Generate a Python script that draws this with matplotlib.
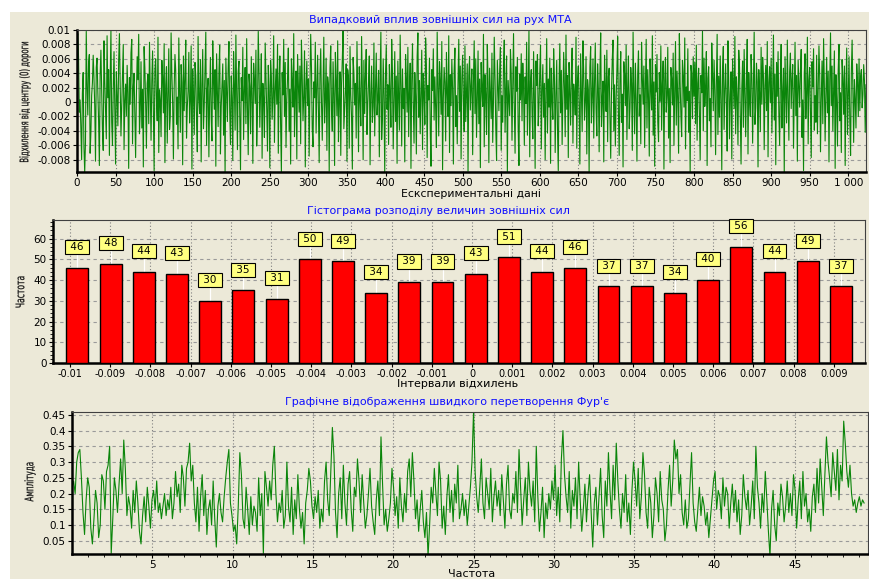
import numpy as np
import matplotlib
matplotlib.use("Agg")
import matplotlib.pyplot as plt
from matplotlib.patches import Rectangle, PathPatch
from matplotlib.textpath import TextPath
from matplotlib.font_manager import FontProperties
from matplotlib.transforms import Affine2D

# --- дані ---
# відхилення від центру дороги, одиниці 1e-4
deviation_e4 = [
    88, 95, 62, -14, 3, -35, -80, 12, 41, -62, -97, -55, 98, 22, -18, 54, 66, -71, -43, 9, 27, 65, 33, -6, -82, 48, 61, 14, -25, -88, 37, 72,
    16, -40, -67, 85, 28, -9, -51, 92, 6, 45, -74, 30, 99, -28, -60, 19, 70, -13, -86, 42, 8, -33, 57, 95, 24, -47, -5, 36, 80, -66, 2, 25,
    -19, 51, 13, -92, 34, -3, 68, 87, -58, 21, 40, -22, -77, 9, 63, 31, 94, -44, -11, 56, -36, 18, -90, 77, 47, -1, -64, 26, 39, -30, 83, 12,
    -53, 29, 71, -8, -95, 44, 60, 5, -26, 90, -70, 17, 3, -48, 58, 35, -15, 81, -84, 23, 49, -57, 11, 74, -38, -20, 96, 38, -2, -79, 20, 66,
    43, -31, 7, -65, 89, 14, -42, 52, 27, -87, 64, -12, 32, 86, -50, -7, 15, 69, -29, 1, 78, -93, 46, 10, -45, 55, 37, -23, -69, 91, 4, -16,
    59, -83, 24, 73, -37, -4, 50, 97, -60, 18, 33, -76, 8, 62, -21, -54, 85, 28, -10, 45, -89, 67, 13, -34, 40, 79, -72, -6, 22, 53, -46, 30,
    -99, 61, 19, -27, 47, 84, -13, -59, 36, 6, -81, 70, 25, -39, 93, 11, -66, 42, 57, -18, -94, 34, 2, 76, -52, 16, 48, -30, 88, -8, -73, 39,
    21, -44, 63, 9, -85, 54, 31, -2, 72, -61, -17, 98, 44, -35, 12, 67, -78, 26, 5, -49, 82, 38, -11, -68, 51, 20, -91, 58, 35, -24, 7, 92,
    -56, 15, 46, -3, 80, -71, 27, 64, -32, -97, 41, 10, 87, -20, 55, -63, 3, 34, 75, -41, 18, -86, 60, 29, -7, 95, -48, 13, 43, -79, 66, 24,
    -14, 50, -58, 86, 37, -26, 8, 71, -90, 22, 57, -5, 32, -75, 17, 94, 48, -36, -62, 28, 6, 83, -43, 19, 65, -15, -84, 39, 74, -1, -53, 14,
    90, -29, 4, 61, -67, 35, 23, -96, 47, 78, -12, -40, 56, 11, -88, 69, 30, -19, 85, -55, 1, 42, -74, 25, 59, 99, -37, -9, 16, 53, -82, 45,
    33, -64, 77, 10, -22, -93, 62, 40, -4, 26, -50, 84, 15, -69, 49, 3, -33, 91, 21, -80, 58, -16, 37, 73, -45, -2, 28, 64, -87, 12, 50, -28,
    -6, 82, -47, 18, 68, -18, 5, 44, -76, 31, 97, -52, -24, 60, 9, -98, 39, 79, -10, 24, -59, 52, 14, -35, 87, 43, -65, 2, 70, -27, 36, -85,
    57, 7, -39, 93, 25, -61, 46, -9, 19, -83, 66, 34, -14, 76, -48, 13, 54, -92, 29, 81, -3, -57, 41, 8, -72, 63, 96, -21, 30, -44, 17, 72,
    -66, 40, 11, -31, 89, 52, -77, 23, 3, 61, -38, -89, 45, 16, 74, -25, 35, -8, -63, 97, 20, -47, 56, 31, -17, 84, -94, 6, 48, 27, -54, 69,
    12, -20, 92, -70, 38, -5, 59, 18, -86, 44, 75, -34, 9, -58, 26, 87, -13, 50, -79, 33, 65, 2, -41, 78, -27, 14, 53, -96, 37, 63, -11, 22,
    46, -73, 28, 85, -16, 60, -49, 4, 71, -30, 32, -91, 55, 19, -6, 94, -62, 38, 10, -45, 80, 27, -84, 47, 13, -23, 68, -56, 1, 90, 34, -37,
    -81, 58, 22, -12, 43, 76, -67, 9, -28, 51, 86, -42, 17, 64, -97, 30, 7, -19, 73, 40, -53, 24, 95, -8, -71, 49, 15, 62, -35, -88, 39, 3,
    67, -26, 54, 20, -60, 35, -2, 83, -46, 12, 99, -76, 29, 45, -14, -51, 70, 8, -92, 57, 23, 66, -33, -4, 41, 79, -65, 18, 52, -21, 26, -80,
    14, 88, -43, 32, -7, 61, -85, 47, 3, -24, 74, 36, -70, 11, 58, -38, -95, 28, 81, -15, 44, -59, 6, 69, 21, -48, 93, -10, 37, -77, 55, 16,
    -32, 42, 75, -57, 25, 9, -18, 90, -64, 33, 50, -3, -86, 67, 14, -41, 85, 39, -25, 2, 63, -72, 31, 17, -99, 48, 77, -29, 8, 60, -50, 27,
    82, -9, -47, 53, 18, -69, 40, 96, -34, 5, 29, -83, 65, 22, -13, 72, -55, 35, 47, -22, -78, 13, 59, 86, -40, 24, -61, 4, 44, 91, -16, -74,
    31, 70, -28, 11, -90, 56, 38, -5, 79, -52, 20, 64, -37, -8, 48, 26, -67, 97, 15, -44, 54, 3, -82, 39, 71, -19, 10, -58, 83, 34, -3, 50,
    -63, 23, 87, -36, 45, 7, -75, 60, 18, -11, 92, -46, 28, -89, 52, 14, 66, -27, -55, 41, 1, 78, -39, 25, 57, -93, 30, 62, -14, 9, 76, -50,
    19, -84, 48, 33, -4, 68, -60, 12, 84, -32, 43, 6, -71, 95, 27, -18, -48, 58, 36, -7, 89, -65, 21, 2, 74, -42, 15, -97, 51, 40, -23, 63,
    8, 55, -30, 79, -53, 26, 47, -15, -80, 37, 13, 100, -40, 61, -6, 22, 70, -88, 33, 49, -26, 5, -62, 82, 39, -12, 58, 17, -73, 29, 94, -45,
    36, -21, 64, 4, -94, 46, 77, -38, 16, 53, -2, -68, 85, 30, -51, 11, 42, -79, 60, 24, -9, 91, -44, 35, 7, -59, 72, 48, -17, -86, 20, 57,
    -35, 73, 10, -48, 29, 87, -72, 41, 2, -20, 66, 34, -57, 18, 97, -31, -8, 54, 28, -90, 45, 13, -41, 76, -3, 62, 38, -66, 23, 51, -12, 84,
    -76, 27, 49, -1, 61, -43, 17, 93, -25, 39, -87, 55, 8, 70, -16, -60, 32, 80, -36, 14, 47, -98, 63, 20, -29, 86, 5, -53, 42, 68, -9, 31,
    52, -64, 15, 83, -19, 37, -82, 58, 26, -7, 44, 73, -49, 3, -95, 40, 67, -23, 12, 90, -58, 30, 48, -13, -77, 56, 21, 74, -39, 9, -28, 65,
    -44, 18, 78, 35, -69, 6, 57, -30, 88, 24, -54, 11, 62, -15, 43, -83, 29, 96, -5, 50, -40, 16, 71, -92, 38, 2, -61, 45, 80, -26, 13, -70,
    59, 34, -17, 50, -88, 22, 75, -45, 9, 63, -27, -74, 41, 86, 19, -56, 31, 4, -36, 53, 27, -20, 60, -12, 36, 45, -8, 10, 52, 30, -42, 24,
]

# гістограма
hist_counts = [46, 48, 44, 43, 30, 35, 31, 50, 49, 34, 39, 39,
               43, 51, 44, 46, 37, 37, 34, 40, 56, 44, 49, 37]
hist_range = (-0.01023, 0.00959)
hist_ticks = [-0.01, -0.009, -0.008, -0.007, -0.006, -0.005, -0.004, -0.003, -0.002, -0.001,
              0, 0.001, 0.002, 0.003, 0.004, 0.005, 0.006, 0.007, 0.008, 0.009]
hist_tick_labels = ['-0.01', '-0.009', '-0.008', '-0.007', '-0.006', '-0.005', '-0.004',
                    '-0.003', '-0.002', '-0.001', '0', '0.001', '0.002', '0.003', '0.004',
                    '0.005', '0.006', '0.007', '0.008', '0.009']

# амплітуда ШПФ, одиниці 0.01
fft_amp_e2 = [
    22, 24, 20, 30, 33, 34, 25, 14, 7, 18, 25, 22, 9, 4, 12, 21, 17, 6, 10, 26, 24, 15, 27, 29, 35, 1, 12, 25, 21, 14, 23, 31, 20, 37, 28, 13, 19, 16, 9, 21, 14, 24, 17, 8, 4, 13, 19, 11, 22, 16, 9,
    18, 21, 15, 24, 14, 17, 12, 16, 20, 13, 18, 15, 22, 12, 17, 27, 19, 23, 14, 29, 25, 16, 28, 30, 36, 24, 29, 17, 11, 22, 8, 19, 26, 13, 21, 7, 15, 18, 10, 24, 12, 3, 16, 20, 14, 11, 19, 25, 30, 34, 17,
    13, 8, 10, 4, 16, 33, 26, 12, 9, 22, 15, 7, 19, 10, 16, 14, 8, 25, 13, 20, 1, 27, 22, 16, 24, 18, 29, 35, 20, 11, 17, 14, 21, 9, 13, 30, 16, 11, 22, 7, 18, 12, 26, 15, 9, 14, 4, 17, 21, 28, 24,
    16, 12, 19, 14, 21, 9, 15, 11, 24, 30, 18, 13, 27, 41, 32, 14, 6, 20, 25, 12, 29, 17, 10, 23, 27, 15, 8, 22, 19, 31, 24, 14, 26, 17, 9, 13, 20, 28, 16, 11, 7, 18, 24, 13, 38, 23, 10, 15, 8, 12, 17,
    28, 22, 13, 19, 9, 25, 16, 11, 20, 14, 27, 31, 19, 33, 24, 12, 18, 8, 15, 21, 11, 6, 14, 0, 10, 22, 17, 28, 20, 13, 30, 24, 9, 16, 7, 19, 26, 14, 21, 11, 23, 17, 29, 12, 15, 20, 13, 18, 10, 16, 22,
    30, 46, 27, 19, 14, 22, 31, 17, 12, 25, 20, 15, 28, 11, 19, 24, 16, 21, 13, 26, 18, 9, 23, 29, 15, 12, 20, 17, 27, 14, 34, 22, 10, 18, 25, 13, 30, 21, 16, 24, 11, 35, 19, 8, 14, 22, 6, 17, 12, 20, 15,
    24, 18, 29, 13, 22, 11, 31, 40, 26, 19, 14, 27, 9, 21, 16, 25, 12, 30, 18, 8, 15, 23, 11, 20, 26, 14, 3, 17, 22, 10, 19, 28, 13, 6, 24, 16, 33, 21, 12, 29, 18, 36, 24, 15, 9, 20, 14, 26, 11, 17, 7,
    21, 30, 24, 16, 28, 12, 19, 33, 26, 14, 9, 22, 17, 6, 13, 25, 20, 11, 27, 18, 15, 5, 10, 21, 29, 16, 24, 37, 31, 34, 20, 26, 14, 10, 18, 9, 12, 23, 33, 17, 11, 8, 15, 22, 13, 19, 16, 10, 14, 6, 12,
    18, 24, 27, 15, 21, 19, 12, 25, 16, 22, 20, 9, 17, 23, 14, 21, 11, 18, 7, 13, 26, 19, 15, 21, 10, 16, 24, 12, 35, 22, 17, 9, 20, 14, 27, 18, 8, 0, 15, 21, 10, 5, 17, 13, 23, 19, 11, 16, 24, 14, 20,
    13, 26, 21, 9, 18, 24, 12, 27, 16, 20, 11, 15, 8, 19, 23, 14, 28, 17, 31, 22, 13, 26, 38, 30, 25, 19, 33, 27, 21, 34, 18, 29, 24, 43, 36, 27, 22, 29, 20, 16, 18, 14, 17, 19, 16, 18, 17,
]
fft_step = 100 / 1024  # крок частоти

BG = '#ECE9D8'
GREEN = '#0a850a'
BLUE = '#1010FF'
FS = 7.5
W, H = 870, 579

plt.rcParams['font.family'] = ['DejaVu Sans']
plt.rcParams['font.size'] = FS

fig = plt.figure(figsize=(W / 100, H / 100), dpi=100)
fig.patch.set_facecolor('white')
fig.patches.append(Rectangle((10 / W, 0), 1, 1 - 12 / H, transform=fig.transFigure,
                             facecolor=BG, edgecolor='none', zorder=-10))


def narrow_vtext(x, y, s, size, length):
    # вузький вертикальний підпис (стиснутий по довжині до length пікселів)
    tp = TextPath((0, 0), s, size=size, prop=FontProperties(family='DejaVu Sans'))
    bb = tp.get_extents()
    k = fig.dpi / 72
    sx = length / (bb.width * k)
    tr = (Affine2D().translate(-(bb.x0 + bb.x1) / 2, -(bb.y0 + bb.y1) / 2)
          .scale(sx * k, k).rotate_deg(90).translate(x, H - y))
    fig.patches.append(PathPatch(tp, transform=tr, facecolor='#111111',
                                 edgecolor='#111111', linewidth=0.15))


def style_axes(ax):
    ax.set_facecolor(BG)
    for s in ('left', 'bottom'):
        ax.spines[s].set_linewidth(1.8)
        ax.spines[s].set_color('black')
    for s in ('top', 'right'):
        ax.spines[s].set_linewidth(0.8)
        ax.spines[s].set_color('#404040')
    ax.yaxis.grid(True, linestyle=(0, (3, 3)), color='#9a9a9a', linewidth=0.8)
    ax.xaxis.grid(True, linestyle=(0, (1, 2)), color='#808080', linewidth=0.8)
    ax.set_axisbelow(True)
    ax.tick_params(direction='out', length=3, width=0.8, labelsize=FS, pad=1.5)


# --- верхній графік ---
ax1 = fig.add_axes([77 / W, 1 - 172 / H, 789 / W, 142 / H])
style_axes(ax1)
dev = np.array(deviation_e4) * 1e-4
ax1.plot(np.arange(len(dev)), dev, color=GREEN, linewidth=0.8)
ax1.set_xlim(0, 1023)
ax1.set_ylim(-0.0097, 0.01)
x1_ticks = list(range(0, 1001, 50))
ax1.set_xticks(x1_ticks)
ax1.set_xticklabels([str(t) if t < 1000 else '1 000' for t in x1_ticks])
y1_ticks = [0.01, 0.008, 0.006, 0.004, 0.002, 0, -0.002, -0.004, -0.006, -0.008]
ax1.set_yticks(y1_ticks)
ax1.set_yticklabels(['0.01', '0.008', '0.006', '0.004', '0.002', '0',
                     '-0.002', '-0.004', '-0.006', '-0.008'])
fig.text(440 / W, 1 - 20 / H, 'Випадковий вплив зовнішніх сил на рух МТА',
         color=BLUE, ha='center', va='center', fontsize=8)
fig.text(471 / W, 1 - 194 / H, 'Ескспериментальні дані',
         ha='center', va='center', fontsize=7.8)
narrow_vtext(25, 102, 'Відхилення від центру (0) дороги', 8.5, 120)

# --- гістограма ---
ax2 = fig.add_axes([53 / W, 1 - 363 / H, 812 / W, 143 / H])
style_axes(ax2)
edges = np.linspace(hist_range[0], hist_range[1], len(hist_counts) + 1)
centers = (edges[:-1] + edges[1:]) / 2
bw = edges[1] - edges[0]
ax2.bar(centers, hist_counts, width=bw * 0.66, color='#FF0000',
        edgecolor='black', linewidth=1.0, zorder=3)
counts = np.array(hist_counts)
ax2.vlines(centers, counts, counts + 7.5, color='white', linewidth=0.9, zorder=2)
for c, n in zip(centers, hist_counts):
    ax2.text(c, n + 10, ' ' + str(n) + ' ', ha='center', va='center', fontsize=FS, zorder=4,
             bbox=dict(boxstyle='square,pad=0.2', facecolor='#FFFF80',
                       edgecolor='black', linewidth=0.8))
ax2.set_xlim(-0.010423, 0.009776)
ax2.set_ylim(0, 69)
ax2.set_xticks(hist_ticks)
ax2.set_xticklabels(hist_tick_labels)
ax2.tick_params(axis='x', labelsize=7)
ax2.set_yticks([0, 10, 20, 30, 40, 50, 60])
ax2.set_yticks(np.arange(0, 69, 2), minor=True)
ax2.tick_params(which='minor', length=2, width=0.6)
fig.text(438 / W, 1 - 211 / H, 'Гістограма розподілу величин зовнішніх сил',
         color=BLUE, ha='center', va='center', fontsize=8)
fig.text(458 / W, 1 - 384 / H, 'Інтервали відхилень',
         ha='center', va='center', fontsize=8)
narrow_vtext(20, 292, 'Частота', 8.5, 31)

# --- ШПФ ---
ax3 = fig.add_axes([72 / W, 1 - 554 / H, 796 / W, 142.3 / H])
style_axes(ax3)
amp = np.array(fft_amp_e2) * 0.01
freq = np.arange(len(amp)) * fft_step
ax3.plot(freq, amp, color=GREEN, linewidth=0.8)
ax3.set_xlim(0, 49.56)
ax3.set_ylim(0.008, 0.46)
ax3.set_xticks([5, 10, 15, 20, 25, 30, 35, 40, 45])
ax3.set_xticks(np.arange(1, 50, 1), minor=True)
ax3.tick_params(axis='x', which='minor', length=2, width=0.6)
ax3.set_yticks([0.05, 0.1, 0.15, 0.2, 0.25, 0.3, 0.35, 0.4, 0.45])
ax3.set_yticklabels(['0.05', '0.1', '0.15', '0.2', '0.25', '0.3', '0.35', '0.4', '0.45'])
fig.text(447 / W, 1 - 402 / H, "Графічне відображення швидкого перетворення Фур'є",
         color=BLUE, ha='center', va='center', fontsize=8)
fig.text(472 / W, 1 - 574 / H, 'Частота',
         ha='center', va='center', fontsize=8)
narrow_vtext(30, 482, 'Амплітуда', 8.5, 39)

fig.savefig('out.png', dpi=100, facecolor=fig.get_facecolor())
